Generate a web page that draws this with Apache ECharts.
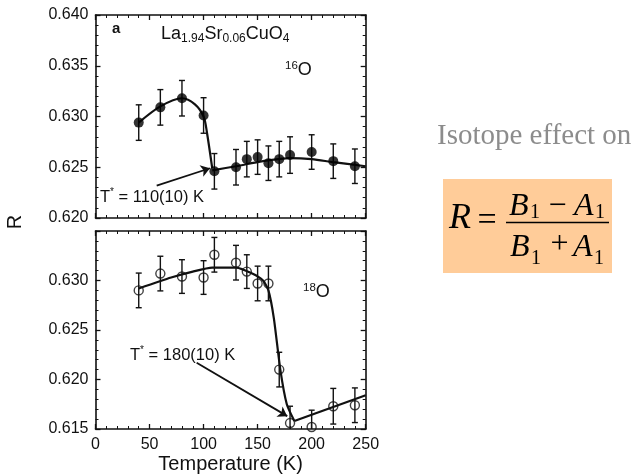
<!DOCTYPE html>
<html style="height: 100%">
<head>
    <meta charset="UTF-8">
    <title>Isotope effect on R</title>
    <script src="https://cdn.jsdelivr.net/npm/echarts/dist/echarts.min.js"></script>
    <style>
        #main { width: 635px; height: 475px; }
    </style>
</head>
<body style="height: 100%; margin: 0; background: #fff">
    <div id="main"></div>
    <script type="text/javascript">
        // ---- data ----
        var xTicks = [0, 50, 100, 150, 200, 250];
        var yTicksTop = [0.620, 0.625, 0.630, 0.635, 0.640];
        var yTicksBottom = [0.615, 0.620, 0.625, 0.630];
        var yMaxBottom = 0.635;

        // 16O sample (filled circles)
        var tempTop = [40, 60, 80, 100, 110, 130, 140, 150, 160, 170, 180, 200, 220, 240];
        var rTop = [0.6294, 0.6309, 0.6318, 0.6301, 0.6246, 0.6250, 0.6258, 0.6260, 0.6254, 0.6258, 0.6262, 0.6265, 0.6256, 0.6251];
        var errTop = [0.00175, 0.00175, 0.00175, 0.00175, 0.00175, 0.00175, 0.00175, 0.0017, 0.0017, 0.00175, 0.0018, 0.0017, 0.0017, 0.0017];

        // 18O sample (open circles)
        var tempBottom = [40, 60, 80, 100, 110, 130, 140, 150, 160, 170, 180, 200, 220, 240];
        var rBottom = [0.6290, 0.6307, 0.6304, 0.6303, 0.6326, 0.6318, 0.6309, 0.6297, 0.6297, 0.6210, 0.6156, 0.6152, 0.6173, 0.6174];
        var errBottom = [0.00175, 0.00175, 0.0017, 0.0017, 0.00175, 0.00175, 0.0017, 0.00175, 0.00175, 0.00175, 0.0017, 0.0017, 0.0018, 0.00175];

        // guide-to-the-eye curves
        var fitTop1 = [[40, 0.6294], [60, 0.6310], [80, 0.6318], [92, 0.6312], [100, 0.6300], [103, 0.6285], [108, 0.6249]];
        var fitTop2 = [[108, 0.6247], [130, 0.6251], [155, 0.6256], [180, 0.6259], [200, 0.6258], [220, 0.6255], [250, 0.6251]];
        var fitBottom1 = [[40, 0.6292], [70, 0.6303], [90, 0.6309], [108, 0.6313], [130, 0.6313], [145, 0.6307], [155, 0.6300], [160, 0.6290], [165, 0.6262], [171, 0.6210], [177, 0.6175], [184, 0.6158]];
        var fitBottom2 = [[184, 0.6158], [250, 0.6184]];

        // T* arrows [from, to]
        var arrowTop = [[56.6, 0.6232], [105.9, 0.6249]];
        var arrowBottom = [[93.6, 0.6217], [177.4, 0.6163]];

        var INK = '#111';
        var SANS = 'Liberation Sans, Arial, sans-serif';
        var SERIF = 'Liberation Serif, Times New Roman, serif';

        var chartDom = document.getElementById('main');
        var myChart = echarts.init(chartDom);

        function xAxisFor(grid, pos, showLabels) {
            return {
                type: 'value', gridIndex: grid, position: pos,
                min: xTicks[0], max: xTicks[xTicks.length - 1], interval: xTicks[1] - xTicks[0],
                axisLine: { show: true, onZero: false, lineStyle: { color: INK, width: 1.6 } },
                axisTick: { show: true, inside: true, length: 5, lineStyle: { color: INK, width: 1.3 } },
                minorTick: { show: true, splitNumber: 5, length: 3, lineStyle: { color: INK, width: 1 } },
                splitLine: { show: false },
                axisLabel: { show: showLabels, color: INK, fontSize: 16, fontFamily: SANS, margin: 8 },
                name: showLabels ? 'Temperature (K)' : '',
                nameLocation: 'middle', nameGap: 25,
                nameTextStyle: { color: INK, fontSize: 20, fontFamily: SANS }
            };
        }

        function yAxisFor(grid, pos, ticks, max, showLabels) {
            return {
                type: 'value', gridIndex: grid, position: pos,
                min: ticks[0], max: max, interval: ticks[1] - ticks[0],
                axisLine: { show: true, onZero: false, lineStyle: { color: INK, width: 1.6 } },
                axisTick: { show: true, inside: true, length: 5, lineStyle: { color: INK, width: 1.3 } },
                minorTick: { show: true, splitNumber: 5, length: 3, lineStyle: { color: INK, width: 1 } },
                splitLine: { show: false },
                axisLabel: {
                    show: showLabels, color: INK, fontSize: 16, fontFamily: SANS, margin: 7,
                    formatter: function (v) {
                        var hit = ticks.some(function (t) { return Math.abs(t - v) < 1e-6; });
                        return hit ? v.toFixed(3) : '';
                    }
                }
            };
        }

        function errorSeries(xi, yi, temps, vals, errs) {
            return {
                type: 'custom', xAxisIndex: xi, yAxisIndex: yi, clip: true, silent: true, z: 3,
                data: temps.map(function (t, i) { return [t, vals[i] - errs[i], vals[i] + errs[i]]; }),
                renderItem: function (params, api) {
                    var lo = api.coord([api.value(0), api.value(1)]);
                    var hi = api.coord([api.value(0), api.value(2)]);
                    var w = 3, st = { stroke: INK, lineWidth: 1.4 };
                    return {
                        type: 'group',
                        children: [
                            { type: 'line', shape: { x1: lo[0], y1: lo[1], x2: hi[0], y2: hi[1] }, style: st },
                            { type: 'line', shape: { x1: hi[0] - w, y1: hi[1], x2: hi[0] + w, y2: hi[1] }, style: st },
                            { type: 'line', shape: { x1: lo[0] - w, y1: lo[1], x2: lo[0] + w, y2: lo[1] }, style: st }
                        ]
                    };
                }
            };
        }

        function fitSeries(xi, yi, pts, smooth, arrow) {
            var s = {
                type: 'line', xAxisIndex: xi, yAxisIndex: yi, data: pts, smooth: smooth,
                symbol: 'none', silent: true, z: 2,
                lineStyle: { color: INK, width: 2.2 }
            };
            if (arrow) {
                s.markLine = {
                    silent: true, symbol: ['none', 'arrow'], symbolSize: 9,
                    lineStyle: { color: INK, width: 1.8, type: 'solid' },
                    label: { show: false },
                    data: [[{ coord: arrow[0] }, { coord: arrow[1] }]]
                };
            }
            return s;
        }

        function zip(a, b) { return a.map(function (v, i) { return [v, b[i]]; }); }

        function txt(x, y, text, extra) {
            var style = {
                x: 0, y: 0, text: text, fill: INK, fontSize: 16, fontFamily: SANS,
                align: 'left', textAlign: 'left', verticalAlign: 'middle', textVerticalAlign: 'middle'
            };
            for (var k in extra) style[k] = extra[k];
            return { type: 'text', x: x, y: y, style: style, silent: true };
        }

        var subRich = { s: { fontSize: 12, lineHeight: 12, verticalAlign: 'bottom', fill: INK, fontFamily: SANS } };
        var supRich = { p: { fontSize: 11.5, lineHeight: 11, verticalAlign: 'top', fill: INK, fontFamily: SANS } };
        var starRich = { p: { fontSize: 10, lineHeight: 9, verticalAlign: 'top', fill: INK, fontFamily: SANS } };

        var option = {
            animation: false,
            backgroundColor: '#fff',
            grid: [
                { left: 95.5, top: 15, width: 270.2, height: 203 },
                { left: 95.5, top: 231, width: 270.2, height: 202.5 }
            ],
            xAxis: [xAxisFor(0, 'bottom', false), xAxisFor(0, 'top', false), xAxisFor(1, 'bottom', true), xAxisFor(1, 'top', false)],
            yAxis: [
                yAxisFor(0, 'left', yTicksTop, yTicksTop[yTicksTop.length - 1], true),
                yAxisFor(0, 'right', yTicksTop, yTicksTop[yTicksTop.length - 1], false),
                yAxisFor(1, 'left', yTicksBottom, yMaxBottom, true),
                yAxisFor(1, 'right', yTicksBottom, yMaxBottom, false)
            ],
            series: [
                fitSeries(0, 0, fitTop1, 0.3, null),
                fitSeries(0, 0, fitTop2, 0.3, arrowTop),
                errorSeries(0, 0, tempTop, rTop, errTop),
                {
                    type: 'scatter', xAxisIndex: 0, yAxisIndex: 0, data: zip(tempTop, rTop),
                    symbol: 'circle', symbolSize: 10, z: 4, silent: true,
                    itemStyle: { color: '#000' }
                },
                fitSeries(2, 2, fitBottom1, 0.2, null),
                fitSeries(2, 2, fitBottom2, false, arrowBottom),
                errorSeries(2, 2, tempBottom, rBottom, errBottom),
                {
                    type: 'scatter', xAxisIndex: 2, yAxisIndex: 2, data: zip(tempBottom, rBottom),
                    symbol: 'circle', symbolSize: 9, z: 4, silent: true,
                    itemStyle: { color: 'rgba(255,255,255,0)', borderColor: INK, borderWidth: 1.4 }
                }
            ],
            graphic: {
                elements: [
                    txt(112, 29, 'a', { fontSize: 15, fontWeight: 'bold' }),
                    txt(161, 34, 'La{s|1.94}Sr{s|0.06}CuO{s|4}', { fontSize: 18, lineHeight: 21, rich: subRich }),
                    txt(285, 70, '{p|16}O', { fontSize: 18, lineHeight: 21, rich: supRich }),
                    txt(100, 197, 'T{p|*} = 110(10) K', { fontSize: 16.5, lineHeight: 19, rich: starRich }),
                    txt(303, 292, '{p|18}O', { fontSize: 18, lineHeight: 21, rich: supRich }),
                    txt(130, 355, 'T{p|*} = 180(10) K', { fontSize: 16.5, lineHeight: 19, rich: starRich }),
                    {
                        type: 'text', x: 15, y: 222, rotation: Math.PI / 2, silent: true,
                        style: { x: 0, y: 0, text: 'R', fill: INK, fontSize: 20, fontFamily: SANS, align: 'center', textAlign: 'center', verticalAlign: 'middle', textVerticalAlign: 'middle' }
                    },

                    // side note and formula box
                    txt(437, 136, 'Isotope effect on', { fontSize: 29, fontFamily: SERIF, fill: '#8c8c8c' }),
                    { type: 'rect', shape: { x: 443, y: 179, width: 169, height: 94 }, style: { fill: '#FFCC99' }, silent: true },
                    txt(449, 219, 'R', { fontSize: 36, fontFamily: SERIF, fontStyle: 'italic', fill: '#000' }),
                    txt(487, 221, '=', { fontSize: 34, fontFamily: SERIF, fill: '#000', align: 'center', textAlign: 'center' }),
                    { type: 'line', shape: { x1: 506, y1: 222.5, x2: 609, y2: 222.5 }, style: { stroke: '#000', lineWidth: 1.5 }, silent: true },
                    txt(509, 207, 'B', { fontSize: 32, fontFamily: SERIF, fontStyle: 'italic', fill: '#000' }),
                    txt(530, 213, '1', { fontSize: 20, fontFamily: SERIF, fill: '#000' }),
                    txt(557.5, 207, '\u2212', { fontSize: 32, fontFamily: SERIF, fill: '#000', align: 'center', textAlign: 'center' }),
                    txt(574, 207, 'A', { fontSize: 32, fontFamily: SERIF, fontStyle: 'italic', fill: '#000' }),
                    txt(595, 213, '1', { fontSize: 20, fontFamily: SERIF, fill: '#000' }),
                    txt(510, 247.5, 'B', { fontSize: 32, fontFamily: SERIF, fontStyle: 'italic', fill: '#000' }),
                    txt(531, 259, '1', { fontSize: 20, fontFamily: SERIF, fill: '#000' }),
                    txt(559.5, 245, '+', { fontSize: 32, fontFamily: SERIF, fill: '#000', align: 'center', textAlign: 'center' }),
                    txt(573, 247.5, 'A', { fontSize: 32, fontFamily: SERIF, fontStyle: 'italic', fill: '#000' }),
                    txt(594, 259, '1', { fontSize: 20, fontFamily: SERIF, fill: '#000' })
                ]
            }
        };

        myChart.setOption(option);
    </script>
</body>
</html>
